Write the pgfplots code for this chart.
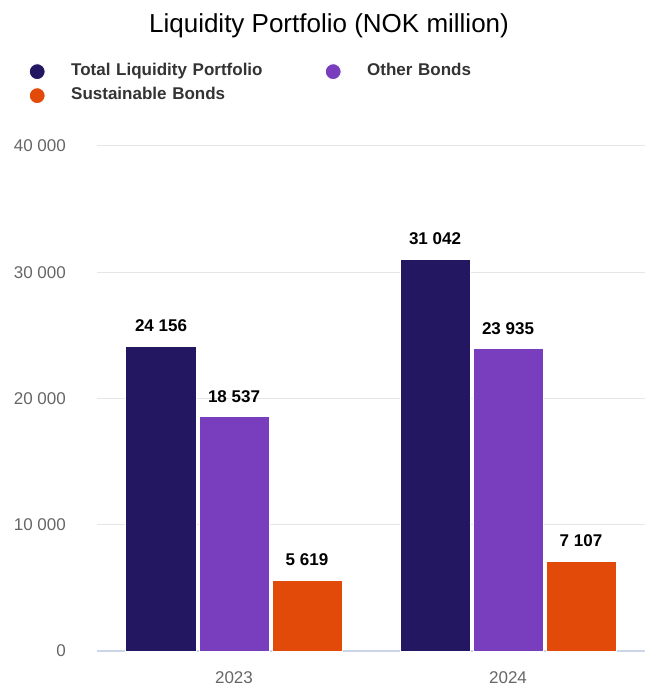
\documentclass[border=0pt]{standalone}
\usepackage{pgfplots}
\pgfplotsset{compat=1.18}
\usepackage{fontspec}
\setmainfont{Liberation Sans}
\definecolor{cTotal}{HTML}{231762}
\definecolor{cOther}{HTML}{783EBD}
\definecolor{cSust}{HTML}{E14A08}
\definecolor{cGrid}{HTML}{E6E6E6}
\definecolor{cAxis}{HTML}{CCD6EB}
\definecolor{cTick}{HTML}{666666}
\definecolor{cLeg}{HTML}{333333}
\pgfplotsset{dotlegend/.style={legend image code/.code={\path[draw=none,fill=none] (0pt,-5pt) rectangle (43pt,5pt); \fill (9pt,0pt) circle (8pt);}}}
\begin{document}
\begin{tikzpicture}
\useasboundingbox (0,0) rectangle (646pt,687pt);
\begin{axis}[
  at={(97pt,36pt)}, anchor=south west,
  scale only axis, width=548pt, height=505pt,
  xmin=-0.5, xmax=1.5, ymin=0, ymax=40000,
  axis lines*=left,
  y axis line style={draw=none},
  x axis line style={draw=cAxis, line width=1.2pt},
  ymajorgrids, grid style={cGrid, line width=1pt},
  major tick length=0pt,
  scaled y ticks=false,
  ytick={0,10000,20000,30000,40000},
  yticklabels={0,10 000,20 000,30 000,40 000},
  yticklabel style={font=\fontsize{17}{20}\selectfont, color=cTick, anchor=east, inner sep=0pt, xshift=-31pt},
  xtick={0,1}, xticklabels={2023,2024},
  xticklabel style={font=\fontsize{17}{20}\selectfont, color=cTick, anchor=center, yshift=-27pt},
  ybar, bar width=70pt,
  nodes near coords, point meta=explicit symbolic,
  every node near coord/.append style={font=\bfseries\fontsize{17}{20}\selectfont, color=black, anchor=south, inner sep=0pt, yshift=14pt},
  legend columns=2,
  legend style={at={(-0.1314,1.1684)}, anchor=north west, draw=none, fill=none,
    font=\bfseries\fontsize{17}{20}\selectfont, text=cLeg,
    column sep=0pt, row sep=7pt,
    nodes={inner sep=0pt, text width=253pt, text height=11pt, text depth=4pt}},
  legend cell align=left,
]
\addplot[fill=cTotal, draw=white, line width=1pt, bar shift=-73pt, dotlegend]
  coordinates {(0,24156) [24 156] (1,31042) [31 042]};
\addplot[fill=cOther, draw=white, line width=1pt, bar shift=0pt, dotlegend]
  coordinates {(0,18537) [18 537] (1,23935) [23 935]};
\addplot[fill=cSust, draw=white, line width=1pt, bar shift=73pt, dotlegend]
  coordinates {(0,5619) [5 619] (1,7107) [7 107]};
\legend{Total Liquidity Portfolio, Other Bonds, Sustainable Bonds}
\end{axis}
\node[font=\fontsize{26}{30}\selectfont, text=black] at (329pt,661pt) {Liquidity Portfolio (NOK million)};
\end{tikzpicture}
\end{document}
